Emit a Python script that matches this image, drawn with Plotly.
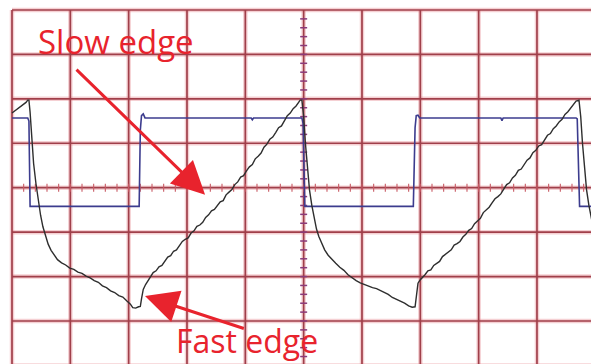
import numpy as np
import plotly.graph_objects as go

# Oscilloscope capture: time in divisions, amplitude in divisions
# Channel 1 (blue): square drive signal
ch1_t = [0.00, 0.27, 0.29, 0.31, 2.18, 2.20, 2.22, 2.25, 2.28,
         4.10, 4.12, 4.14, 4.97, 4.99, 5.02, 6.88, 6.91, 6.93, 6.96, 6.99,
         8.38, 8.40, 8.42, 9.67, 9.69, 9.73, 9.98]
ch1_v = [1.57, 1.57, 1.50, -0.42, -0.42, 1.30, 1.62, 1.66, 1.57,
         1.57, 1.53, 1.57, 1.57, 1.45, -0.42, -0.42, 1.35, 1.62, 1.63, 1.57,
         1.57, 1.51, 1.57, 1.57, 1.55, -0.42, -0.42]

# Channel 2 (black): ramp with slow and fast edges
ch2_t = [0.00, 0.04, 0.08, 0.12, 0.16, 0.20, 0.24, 0.27, 0.29,
         0.31, 0.34, 0.37, 0.41, 0.45, 0.49, 0.53, 0.57, 0.62, 0.67, 0.72, 0.78,
         0.85, 0.92, 0.99, 1.06, 1.13, 1.20, 1.27, 1.34, 1.41, 1.48, 1.55, 1.62,
         1.69, 1.76, 1.83, 1.90, 1.97, 2.03, 2.07, 2.12, 2.17, 2.20,
         2.22, 2.25, 2.29, 2.33, 2.37,
         2.42, 2.47, 2.52, 2.57, 2.62, 2.67, 2.72, 2.77, 2.82, 2.87, 2.92, 2.97,
         3.02, 3.07, 3.12, 3.17, 3.22, 3.27, 3.32, 3.37, 3.42, 3.47, 3.52, 3.57,
         3.62, 3.67, 3.72, 3.77, 3.82, 3.87, 3.92, 3.97, 4.02, 4.07, 4.12, 4.17,
         4.22, 4.27, 4.32, 4.37, 4.42, 4.47, 4.52, 4.57, 4.62, 4.67, 4.72, 4.77,
         4.82, 4.87, 4.91, 4.94, 4.97,
         5.00, 5.03, 5.06, 5.10, 5.14, 5.18, 5.22, 5.26, 5.31, 5.36, 5.42, 5.48,
         5.55, 5.62, 5.69, 5.76, 5.83, 5.90, 5.97, 6.04, 6.11, 6.18, 6.25, 6.31,
         6.38, 6.45, 6.52, 6.59, 6.66, 6.73, 6.80, 6.86, 6.91,
         6.94, 6.96, 7.00, 7.03,
         7.08, 7.13, 7.18, 7.23, 7.28, 7.33, 7.38, 7.43, 7.48, 7.53, 7.58, 7.63,
         7.68, 7.73, 7.78, 7.83, 7.88, 7.93, 7.98, 8.03, 8.08, 8.13, 8.18, 8.23,
         8.28, 8.33, 8.38, 8.43, 8.48, 8.53, 8.58, 8.63, 8.68, 8.73, 8.78, 8.83,
         8.88, 8.93, 8.98, 9.03, 9.08, 9.13, 9.18, 9.23, 9.28, 9.33, 9.38, 9.43,
         9.48, 9.53, 9.58, 9.63, 9.67, 9.72,
         9.75, 9.78, 9.81, 9.85, 9.89, 9.93, 9.97]
ch2_v = [1.68, 1.72, 1.74, 1.79, 1.82, 1.88, 1.92, 1.97, 1.97,
         1.70, 1.10, 0.55, 0.10, -0.30, -0.62, -0.88, -1.08, -1.27, -1.41, -1.52, -1.62,
         -1.69, -1.74, -1.81, -1.84, -1.90, -1.93, -1.99, -2.03, -2.09, -2.13, -2.21, -2.25,
         -2.32, -2.36, -2.43, -2.46, -2.55, -2.62, -2.70, -2.71, -2.68, -2.67,
         -2.50, -2.29, -2.18, -2.09, -2.01,
         -1.91, -1.87, -1.78, -1.75, -1.65, -1.56, -1.53, -1.43, -1.40, -1.31, -1.21, -1.16,
         -1.13, -1.02, -0.97, -0.87, -0.84, -0.78, -0.67, -0.61, -0.52, -0.49, -0.41, -0.32,
         -0.29, -0.16, -0.10, -0.04, 0.07, 0.13, 0.24, 0.27, 0.38, 0.47, 0.52, 0.65,
         0.71, 0.78, 0.91, 0.98, 1.09, 1.14, 1.24, 1.35, 1.39, 1.51, 1.62, 1.68,
         1.78, 1.84, 1.93, 1.97, 1.97,
         1.60, 1.00, 0.45, -0.05, -0.40, -0.70, -0.93, -1.10, -1.27, -1.40, -1.52, -1.61,
         -1.70, -1.79, -1.86, -1.96, -2.03, -2.09, -2.14, -2.18, -2.21, -2.25, -2.27, -2.31,
         -2.37, -2.40, -2.47, -2.51, -2.56, -2.60, -2.66, -2.69, -2.68,
         -2.40, -2.15, -2.07, -2.03,
         -1.96, -1.87, -1.85, -1.75, -1.71, -1.66, -1.55, -1.50, -1.43, -1.40, -1.29, -1.26,
         -1.21, -1.11, -1.05, -0.96, -0.92, -0.81, -0.75, -0.69, -0.56, -0.50, -0.44, -0.34,
         -0.25, -0.20, -0.14, -0.03, 0.07, 0.11, 0.22, 0.28, 0.39, 0.42, 0.53, 0.62,
         0.67, 0.79, 0.84, 0.94, 0.97, 1.08, 1.18, 1.22, 1.33, 1.39, 1.48, 1.54,
         1.65, 1.71, 1.80, 1.87, 1.95, 1.97,
         1.60, 1.00, 0.45, -0.05, -0.40, -0.70, -0.93]
assert len(ch2_t) == len(ch2_v) and len(ch1_t) == len(ch1_v)

# Graticule: 10 x 8 divisions, centre lines carry minor ticks
grid_t = list(range(0, 11))
grid_v = list(range(-4, 5))

GRID_CORE = "#a03f4a"
GRID_HALO = "rgba(225,120,130,0.35)"
RED = "#e8232d"

fig = go.Figure()

shapes = []
for lw, col in ((4.5, GRID_HALO), (1.7, GRID_CORE)):
    for t in grid_t:
        shapes.append(dict(type="line", layer="below", x0=t, x1=t, y0=-4, y1=4,
                           line=dict(color=col, width=lw)))
    for v in grid_v:
        shapes.append(dict(type="line", layer="below", x0=0, x1=10, y0=v, y1=v,
                           line=dict(color=col, width=lw)))

# minor ticks on the centre lines
tx, ty = [], []
for t in np.arange(0.2, 10, 0.2):
    tx += [t, t, None]
    ty += [-0.09, 0.09, None]
fig.add_trace(go.Scatter(x=tx, y=ty, mode="lines", hoverinfo="skip",
                         line=dict(color="#c85a64", width=1.1), showlegend=False))
vx, vy = [], []
for v in np.arange(-3.8, 4, 0.2):
    vx += [4.94, 5.06, None]
    vy += [v, v, None]
fig.add_trace(go.Scatter(x=vx, y=vy, mode="lines", hoverinfo="skip",
                         line=dict(color="#8a3a7a", width=1.5), showlegend=False))

fig.add_trace(go.Scatter(x=ch1_t, y=ch1_v, mode="lines", name="CH1",
                         line=dict(color="#3c3c8e", width=1.6), showlegend=False))
fig.add_trace(go.Scatter(x=ch2_t, y=ch2_v, mode="lines", name="CH2",
                         line=dict(color="#2e2e2e", width=1.4), showlegend=False))

annotations = [
    dict(text="Slow edge", x=1.79, y=3.30, xref="x", yref="y", showarrow=False,
         font=dict(family="Open Sans", size=33, color=RED),
         xanchor="center", yanchor="middle"),
    dict(text="Fast edge", x=4.03, y=-3.44, xref="x", yref="y", showarrow=False,
         font=dict(family="Open Sans", size=32, color=RED),
         xanchor="center", yanchor="middle"),
    dict(text="", x=3.31, y=-0.16, ax=1.08, ay=2.69, xref="x", yref="y",
         axref="x", ayref="y", showarrow=True, arrowhead=2, arrowsize=2.2,
         arrowwidth=3, arrowcolor=RED, standoff=0),
    dict(text="", x=2.28, y=-2.44, ax=4.00, ay=-3.18, xref="x", yref="y",
         axref="x", ayref="y", showarrow=True, arrowhead=2, arrowsize=2.2,
         arrowwidth=3, arrowcolor=RED, standoff=0),
]

fig.update_layout(
    width=591, height=364,
    margin=dict(l=0, r=0, t=0, b=0),
    paper_bgcolor="white", plot_bgcolor="white",
    xaxis=dict(range=[-0.2057, 9.926], visible=False, fixedrange=True),
    yaxis=dict(range=[-3.968, 4.2246], visible=False, fixedrange=True),
    shapes=shapes, annotations=annotations,
)

fig.write_html("out.html")
